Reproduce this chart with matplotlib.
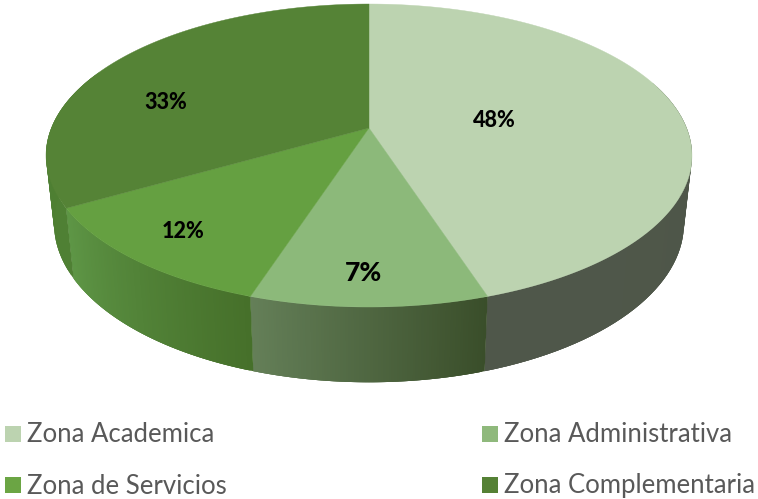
import numpy as np
import matplotlib
matplotlib.use('Agg')
import matplotlib.pyplot as plt
from matplotlib.patches import Rectangle

categories = ['Zona Academica', 'Zona Administrativa', 'Zona de Servicios', 'Zona Complementaria']
# slice sizes as drawn in the picture (the printed labels do not quite agree with them)
drawn_share = [45.0, 10.0, 11.7, 33.3]
pct_labels = ['48%', '7%', '12%', '33%']

top_colors = ['#BCD3B0', '#8CB97A', '#65A041', '#558336']
legend_colors = ['#BCD3B0', '#8FB97C', '#6BA544', '#558135']
wall_left = ['#4F574A', '#647F58', '#5E9646', '#4A7A2C']
wall_right = ['#4D5547', '#3A4E2A', '#46702A', '#4F8034']

plt.rcParams['font.family'] = ['Lato', 'DejaVu Sans']

# perspective of the pie disc: top rim and bottom rim
cx = 369.0
k = 0.1816


def rim(theta, a, y0, b):
    # theta clockwise from 12 o'clock
    X = np.sin(theta)
    Y = -np.cos(theta)
    return cx + a * X / (1 - k * Y), y0 + b * Y / (1 - k * Y)


def top_rim(theta):
    return rim(theta, 317.6, 128.0, 146.5)


def low_rim(theta):
    return rim(theta, 309.7, 194.7, 153.5)


fig = plt.figure(figsize=(7.58, 4.99), dpi=100)
ax = fig.add_axes([0, 0, 1, 1])
ax.set_xlim(0, 758)
ax.set_ylim(499, 0)
ax.axis('off')

edges = np.deg2rad(np.concatenate([[0], np.cumsum(drawn_share)]) * 3.6)

# side wall, thin strips for the shading; each strip overlaps the next so no seams show
for i in range(4):
    th = np.linspace(edges[i], edges[i + 1], 90)
    c0 = np.array(matplotlib.colors.to_rgb(wall_left[i]))
    c1 = np.array(matplotlib.colors.to_rgb(wall_right[i]))
    for j in range(len(th) - 1):
        if np.cos(th[j]) > 0.35:
            continue
        # wall runs clockwise, so the picture's left side is the end of the slice
        f = j / (len(th) - 2)
        col = c1 * (1 - f) + c0 * f
        seg = th[j:j + 4]
        xt, yt = top_rim(seg)
        xb, yb = low_rim(seg)
        ax.fill(np.r_[xt, xb[::-1]], np.r_[yt, yb[::-1]], color=col, lw=0, zorder=1)

# top face
for i in range(4):
    th = np.linspace(edges[i], edges[i + 1], 200)
    x, y = top_rim(th)
    ax.fill(np.r_[cx, x], np.r_[128.0, y], color=top_colors[i], lw=0.3, zorder=2)

label_xy = [(494, 120), (364, 273), (183, 232), (166, 102)]
label_size = [15.5, 19, 15.5, 15.5]
for s, (lx, ly), fs in zip(pct_labels, label_xy, label_size):
    ax.text(lx, ly, s, ha='center', va='center', fontsize=fs, fontweight='black',
            color='black', zorder=3)

# legend
legend_xy = [(5, 434), (482, 434), (5, 485), (482, 485)]
for name, col, (lx, ly) in zip(categories, legend_colors, legend_xy):
    ax.add_patch(Rectangle((lx, ly - 8), 16, 16, facecolor=col, edgecolor='none'))
    ax.text(lx + 22, ly + 1, name, ha='left', va='center', fontsize=18.5, color='#595959')

fig.savefig('out.png', dpi=100)
